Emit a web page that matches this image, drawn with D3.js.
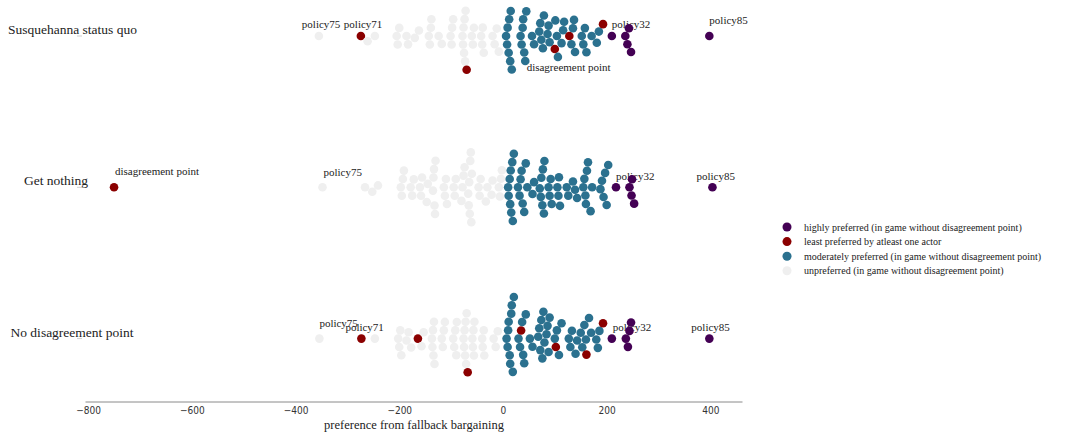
<!DOCTYPE html>
<html>
<head>
<meta charset="utf-8">
<script src="https://cdn.jsdelivr.net/npm/d3@7"></script>
<style>
  body { margin: 0; background: #fff; }
  svg { display: block; }
</style>
</head>
<body>
<svg id="chart" width="1067" height="434"></svg>
<script>
// Scenarios shown as rows
const scenarios = ["Susquehanna status quo", "Get nothing", "No disagreement point"];

// Preference values per scenario, split by policy class
const highlyPreferred = [
  [210, 236, 240, 243, 247, 398],
  [218, 244, 248, 249, 253, 404],
  [210, 237, 241, 244, 247, 398]
];
const leastPreferred = [
  [-274, -70, 100, 128, 193],
  [-750],
  [-273, -164, -68, 35, 102, 161, 193]
];
const moderatelyPreferred = [
  [6, 8, 9, 11, 12, 14, 15, 17,
   34, 36, 38, 39, 41, 43, 45,
   56, 60,
   70, 72, 74, 77, 79,
   86, 88, 90,
   101, 104, 106,
   113, 116, 118,
   132, 135, 137, 139,
   152, 155, 158, 161,
   171,
   181, 185],
  [10, 11, 13, 14, 15, 16, 18, 19, 21,
   29, 32, 34, 36, 38, 41, 44, 47,
   57, 60,
   71, 73, 74, 76, 77, 79, 80,
   88, 90, 92, 94,
   105, 107, 108, 110,
   123, 126,
   135, 139, 143,
   155, 157, 159, 160, 162, 164,
   169, 172,
   188, 191, 194, 197, 200, 203],
  [7, 9, 10, 11, 13, 14, 16, 17, 19, 21,
   30, 33, 37, 39, 41, 44,
   52, 57,
   68, 70, 72, 74, 76, 78, 80,
   84, 86, 88, 90,
   100, 104, 108, 113,
   127, 130, 133, 140, 143,
   150, 153, 157, 160,
   166, 170, 180, 183, 186]
];
const unpreferred = [
  [-355,
   -261, -247,
   -205, -203, -200,
   -186, -183,
   -170, -162,
   -143, -141, -139, -138,
   -124, -118,
   -101, -99, -98, -96,
   -78, -77, -76, -75, -74, -73, -72,
   -60, -58, -56,
   -42, -40, -39, -37,
   -20, -16, -12, -8],
  [-348,
   -266, -252, -241,
   -197, -195, -193, -191,
   -178, -175, -172,
   -160, -158, -156,
   -147, -145,
   -135, -134, -133, -132, -131, -130,
   -114, -112, -110, -108,
   -95, -93, -91,
   -80, -78, -76, -74,
   -67, -66, -65, -64, -63, -62, -61, -60,
   -47, -45, -43,
   -33, -30,
   -22, -20,
   -8, -6, -4, -2],
  [-354,
   -247,
   -202, -200, -198, -196,
   -186, -182, -177,
   -157, -153,
   -137, -136, -135, -134, -133, -132,
   -118, -116, -114, -112,
   -96, -94, -92, -90, -89,
   -76, -75, -74, -73, -72, -71, -70,
   -59, -58, -57, -56, -55,
   -40, -39, -37, -36,
   -18, -14, -10]
];

const xTicks = [-800, -600, -400, -200, 0, 200, 400];

// Named policies annotated in each row
const pointLabels = [
  { row: 0, text: "policy75", value: -355 },
  { row: 0, text: "policy71", value: -274 },
  { row: 0, text: "policy32", value: 210 },
  { row: 0, text: "policy85", value: 398 },
  { row: 0, text: "disagreement point", value: -70 },
  { row: 1, text: "disagreement point", value: -750 },
  { row: 1, text: "policy75", value: -348 },
  { row: 1, text: "policy32", value: 218 },
  { row: 1, text: "policy85", value: 404 },
  { row: 2, text: "policy75", value: -354 },
  { row: 2, text: "policy71", value: -273 },
  { row: 2, text: "policy32", value: 210 },
  { row: 2, text: "policy85", value: 398 }
];
// text nudges (px) for the annotations above, same order
const labelNudge = [
  [-17, -8], [-17, -8], [0, -8], [0, -12], [60, 35],
  [1, -12], [1, -11], [0, -7], [-16, -7],
  [0, -12], [-16, -8], [1, -8], [-18, -8]
];

const classColors = ["#440154", "#8b0000", "#2b718f", "#efefef"];
const classNames = [
  "highly preferred (in game without disagreement point)",
  "least preferred by atleast one actor",
  "moderately preferred (in game without disagreement point)",
  "unpreferred (in game without disagreement point)"
];

const svg = d3.select("#chart");
const serif = "'Liberation Serif', 'DejaVu Serif', serif";

const x = d3.scaleLinear().domain([-806, 461]).range([85, 742]);
const y = d3.scalePoint().domain(scenarios).range([36, 338.6]);

const R = 4.3;
const D = 8.5;

// seaborn-style beeswarm: place each point (in value order) at the
// free offset nearest the row centre
function swarm(pts) {
  const placed = [];
  pts.forEach(p => {
    const near = placed.filter(q => Math.abs(q.px - p.px) < D);
    const cands = [0];
    near.forEach(q => {
      const dy = Math.sqrt(D * D - (q.px - p.px) ** 2);
      cands.push(q.off + dy, q.off - dy);
    });
    cands.sort((a, b) => Math.abs(a) - Math.abs(b) || b - a);
    for (const c of cands) {
      if (near.every(q => (q.px - p.px) ** 2 + (q.off - c) ** 2 >= D * D - 1e-6)) {
        p.off = c; break;
      }
    }
    placed.push(p);
  });
  return placed;
}

const groups = [highlyPreferred, leastPreferred, moderatelyPreferred, unpreferred];
const allPoints = [];
scenarios.forEach((s, ri) => {
  const pts = [];
  groups.forEach((g, ci) => g[ri].forEach(v => pts.push({ row: ri, cls: ci, value: v, px: x(v), off: 0 })));
  pts.sort((a, b) => a.value - b.value);
  swarm(pts).forEach(p => allPoints.push(p));
});

// x axis
const axis = svg.append("g")
  .attr("transform", "translate(0,401.5)")
  .call(d3.axisBottom(x).tickValues(xTicks).tickSize(0).tickPadding(5));
axis.select(".domain").attr("stroke", "#8a8a8a").attr("stroke-width", 1);
axis.selectAll("text")
  .attr("font-family", "'DejaVu Sans Condensed', 'Liberation Sans Narrow', 'DejaVu Sans', sans-serif")
  .attr("font-size", 10).attr("fill", "#333");

svg.append("text")
  .attr("x", 414).attr("y", 429)
  .attr("text-anchor", "middle")
  .attr("font-family", serif).attr("font-size", 12.5).attr("fill", "#222")
  .text("preference from fallback bargaining");

// row labels with small tick marks
const rowLabelX = [72.5, 56, 72];
scenarios.forEach((s, i) => {
  svg.append("line")
    .attr("x1", 77).attr("x2", 82).attr("y1", y(s)).attr("y2", y(s))
    .attr("stroke", "#d0d0d0");
  svg.append("text")
    .attr("x", rowLabelX[i]).attr("y", y(s) - 2)
    .attr("text-anchor", "middle")
    .attr("font-family", serif).attr("font-size", 13.5).attr("fill", "#222")
    .text(s);
});

// annotations (drawn beneath the dots)
svg.append("g").selectAll("text")
  .data(pointLabels)
  .join("text")
  .attr("x", (d, i) => x(d.value) + labelNudge[i][0])
  .attr("y", (d, i) => y(scenarios[d.row]) + labelNudge[i][1])
  .attr("font-family", serif).attr("font-size", 11).attr("fill", "#222")
  .text(d => d.text);

// dots
svg.append("g").selectAll("circle")
  .data(allPoints)
  .join("circle")
  .attr("cx", d => d.px)
  .attr("cy", d => y(scenarios[d.row]) + d.off)
  .attr("r", R)
  .attr("fill", d => classColors[d.cls]);

// legend
const legend = svg.append("g").attr("transform", "translate(787,227)");
classNames.forEach((n, i) => {
  legend.append("circle").attr("cx", 0).attr("cy", i * 14.6).attr("r", 4.5).attr("fill", classColors[i]);
  legend.append("text").attr("x", 17).attr("y", i * 14.6 + 3.5)
    .attr("font-family", serif).attr("font-size", 10).attr("fill", "#222")
    .text(n);
});
</script>
</body>
</html>
